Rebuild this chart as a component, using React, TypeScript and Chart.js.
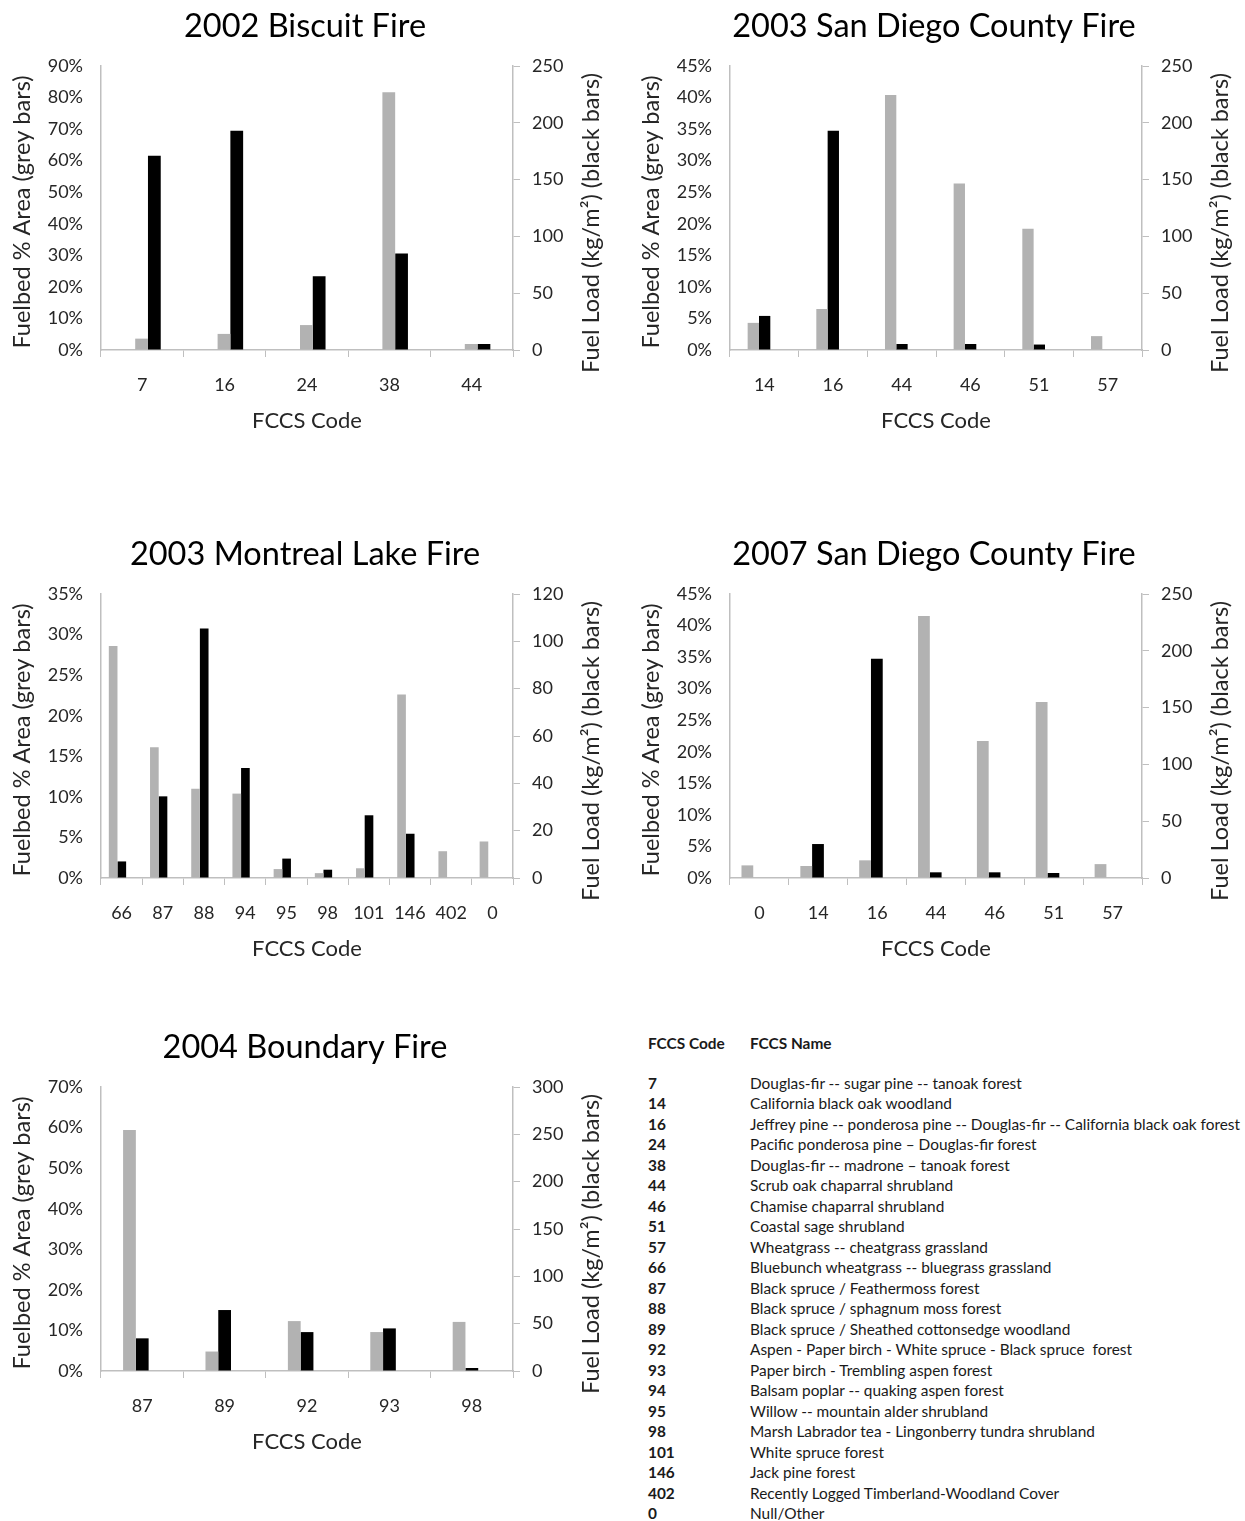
import React, { useEffect, useRef } from "react";
import { Chart, registerables } from "chart.js";

Chart.register(...registerables);

const FONT = "Lato, 'Open Sans', sans-serif";
const GREY = "#b2b2b2";
const BLACK = "#000000";
const AXIS = "#bfbfbf";
const TEXT = "#262626";

// ---- Data ----
const biscuitCodes = ["7", "16", "24", "38", "44"];
const biscuitArea = [3.6, 5.1, 7.9, 81.7, 1.9];
const biscuitLoad = [171, 193, 65, 85, 5.3];

const sd2003Codes = ["14", "16", "44", "46", "51", "57"];
const sd2003Area = [4.3, 6.5, 40.4, 26.4, 19.2, 2.2];
const sd2003Load = [30, 193, 5.3, 5.3, 4.8, 0];

const montrealCodes = ["66", "87", "88", "94", "95", "98", "101", "146", "402", "0"];
const montrealArea = [28.6, 16.1, 11.0, 10.4, 1.1, 0.6, 1.2, 22.6, 3.3, 4.5];
const montrealLoad = [7.0, 34.5, 105.4, 46.5, 8.2, 3.5, 26.5, 18.7, 0, 0];

const sd2007Codes = ["0", "14", "16", "44", "46", "51", "57"];
const sd2007Area = [2.0, 1.9, 2.8, 41.5, 21.7, 27.9, 2.2];
const sd2007Load = [0, 29.9, 193, 5, 5, 4.4, 0];

const boundaryCodes = ["87", "89", "92", "93", "98"];
const boundaryArea = [59.4, 4.8, 12.3, 9.6, 12.1];
const boundaryLoad = [34.5, 64.4, 41.1, 45, 3.2];

const titles = [
  "2002 Biscuit Fire",
  "2003 San Diego County Fire",
  "2003 Montreal Lake Fire",
  "2007 San Diego County Fire",
  "2004 Boundary Fire",
];
const leftMax = [90, 45, 35, 45, 70];
const leftStep = [10, 5, 5, 5, 10];
const rightMax = [250, 250, 120, 250, 300];
const rightStep = [50, 50, 20, 50, 50];

const leftTitle = "Fuelbed % Area (grey bars)";
const rightTitle = "Fuel Load (kg/m²) (black bars)";
const xTitle = "FCCS Code";

const tableCodes = ["7", "14", "16", "24", "38", "44", "46", "51", "57", "66", "87", "88", "89", "92", "93", "94", "95", "98", "101", "146", "402", "0"];
const tableNames = [
  "Douglas-fir -- sugar pine -- tanoak forest",
  "California black oak woodland",
  "Jeffrey pine -- ponderosa pine -- Douglas-fir -- California black oak forest",
  "Pacific ponderosa pine – Douglas-fir forest",
  "Douglas-fir -- madrone – tanoak forest",
  "Scrub oak chaparral shrubland",
  "Chamise chaparral shrubland",
  "Coastal sage shrubland",
  "Wheatgrass -- cheatgrass grassland",
  "Bluebunch wheatgrass -- bluegrass grassland",
  "Black spruce / Feathermoss forest",
  "Black spruce / sphagnum moss forest",
  "Black spruce / Sheathed cottonsedge woodland",
  "Aspen - Paper birch - White spruce - Black spruce  forest",
  "Paper birch - Trembling aspen forest",
  "Balsam poplar -- quaking aspen forest",
  "Willow -- mountain alder shrubland",
  "Marsh Labrador tea - Lingonberry tundra shrubland",
  "White spruce forest",
  "Jack pine forest",
  "Recently Logged Timberland-Woodland Cover",
  "Null/Other",
];

// layout / style per chart (group width fraction and group shift as fraction of a category)
const chartSpecs = [
  { codes: biscuitCodes, area: biscuitArea, load: biscuitLoad, left: 0, top: 0, cat: 0.31, shift: 0.07 },
  { codes: sd2003Codes, area: sd2003Area, load: sd2003Load, left: 629, top: 0, cat: 0.33, shift: -0.078 },
  { codes: montrealCodes, area: montrealArea, load: montrealLoad, left: 0, top: 528, cat: 0.42, shift: -0.1 },
  { codes: sd2007Codes, area: sd2007Area, load: sd2007Load, left: 629, top: 528, cat: 0.4, shift: -0.105 },
  { codes: boundaryCodes, area: boundaryArea, load: boundaryLoad, left: 0, top: 1021, cat: 0.31, shift: -0.077 },
];

const W = 620;
const H = 440;

const vTitlePlugin = {
  id: "vtitles",
  afterDraw(chart: any) {
    const { ctx, chartArea } = chart;
    const cy = (chartArea.top + chartArea.bottom) / 2;
    ctx.save();
    ctx.font = `23.5px ${FONT}`;
    ctx.fillStyle = TEXT;
    ctx.textAlign = "center";
    ctx.textBaseline = "middle";
    const items = [
      { text: leftTitle, x: 22, y: cy + 4 },
      { text: rightTitle, x: chartArea.right + 78, y: cy + 15 },
    ];
    for (const t of items) {
      ctx.save();
      ctx.translate(t.x, t.y);
      ctx.rotate(-Math.PI / 2);
      ctx.fillText(t.text, 0, 0);
      ctx.restore();
    }
    ctx.restore();
  },
};

const barShiftPlugin = {
  id: "barShift",
  afterDatasetsUpdate(chart: any, _args: any, opts: any) {
    const xs = chart.scales.x;
    const n = chart.data.labels.length;
    const cw = xs.width / n;
    const dx = (opts.frac || 0) * cw;
    chart.getSortedVisibleDatasetMetas().forEach((meta: any) => {
      meta.data.forEach((el: any) => {
        el.x += dx;
      });
    });
  },
};

function FireChart({ idx }: { idx: number }) {
  const ref = useRef<HTMLCanvasElement | null>(null);
  const spec = chartSpecs[idx];
  useEffect(() => {
    if (!ref.current) return;
    const chart = new Chart(ref.current, {
      type: "bar",
      data: {
        labels: spec.codes,
        datasets: [
          { label: "Area", data: spec.area, backgroundColor: GREY, yAxisID: "y", categoryPercentage: spec.cat, barPercentage: 1 },
          { label: "Load", data: spec.load, backgroundColor: BLACK, yAxisID: "y1", categoryPercentage: spec.cat, barPercentage: 1 },
        ],
      },
      options: {
        responsive: false,
        animation: false,
        devicePixelRatio: 1,
        layout: { padding: { left: 0, right: 10, top: 0, bottom: 0 } },
        plugins: {
          legend: { display: false },
          tooltip: { enabled: false },
          barShift: { frac: spec.shift },
          title: {
            display: true,
            text: titles[idx],
            color: "#000",
            font: { family: FONT, size: 32.5, weight: "normal" },
            padding: { top: 7, bottom: 20 },
          },
        },
        scales: {
          x: {
            grid: { display: true, drawOnChartArea: false, drawTicks: true, tickLength: 7, color: AXIS, offset: true },
            border: { display: true, color: AXIS, width: 1.5 },
            ticks: { color: TEXT, font: { family: FONT, size: 18 }, padding: 17, maxRotation: 0, autoSkip: false },
            title: { display: true, text: xTitle, color: TEXT, font: { family: FONT, size: 22 }, padding: { top: 0, bottom: 6 } },
            afterFit: (s: any) => { s.height = H - 350; },
          },
          y: {
            position: "left",
            min: 0,
            max: leftMax[idx],
            grid: { display: true, drawOnChartArea: false, drawTicks: false, color: AXIS },
            border: { display: true, color: AXIS, width: 1.5 },
            ticks: { stepSize: leftStep[idx], color: TEXT, font: { family: FONT, size: 18 }, padding: 18, callback: (v: any) => `${v}%` },
            afterFit: (s: any) => { s.width = 101; },
          },
          y1: {
            position: "right",
            min: 0,
            max: rightMax[idx],
            grid: { display: true, drawOnChartArea: false, drawTicks: true, tickLength: 7, color: AXIS },
            border: { display: true, color: AXIS, width: 1.5 },
            ticks: { stepSize: rightStep[idx], color: TEXT, font: { family: FONT, size: 18 }, padding: 12 },
            afterFit: (s: any) => { s.width = 97; },
          },
        },
      },
      plugins: [vTitlePlugin, barShiftPlugin],
    } as any);
    return () => chart.destroy();
  }, [idx]);
  return (
    <div style={{ position: "absolute", left: spec.left, top: spec.top, width: W, height: H }}>
      <canvas ref={ref} width={W} height={H} style={{ width: W, height: H, display: "block" }} />
    </div>
  );
}

function FccsTable() {
  const rowH = 20.5;
  const base = { position: "absolute" as const, fontFamily: FONT, fontSize: 15.4, color: "#1a1a1a", whiteSpace: "pre" as const, lineHeight: `${rowH}px` };
  return (
    <div>
      <div style={{ ...base, left: 648, top: 1043 - rowH / 2, fontWeight: 700 }}>FCCS Code</div>
      <div style={{ ...base, left: 750, top: 1043 - rowH / 2, fontWeight: 700 }}>FCCS Name</div>
      {tableCodes.map((c, i) => (
        <React.Fragment key={i}>
          <div style={{ ...base, left: 648, top: 1083 + i * rowH - rowH / 2, fontWeight: 700 }}>{c}</div>
          <div style={{ ...base, left: 750, top: 1083 + i * rowH - rowH / 2 }}>{tableNames[i]}</div>
        </React.Fragment>
      ))}
    </div>
  );
}

export default function App() {
  return (
    <div style={{ position: "absolute", left: 0, top: 0, width: 1245, height: 1521, background: "#fff", overflow: "hidden" }}>
      {chartSpecs.map((_, i) => (
        <FireChart key={i} idx={i} />
      ))}
      <FccsTable />
    </div>
  );
}
